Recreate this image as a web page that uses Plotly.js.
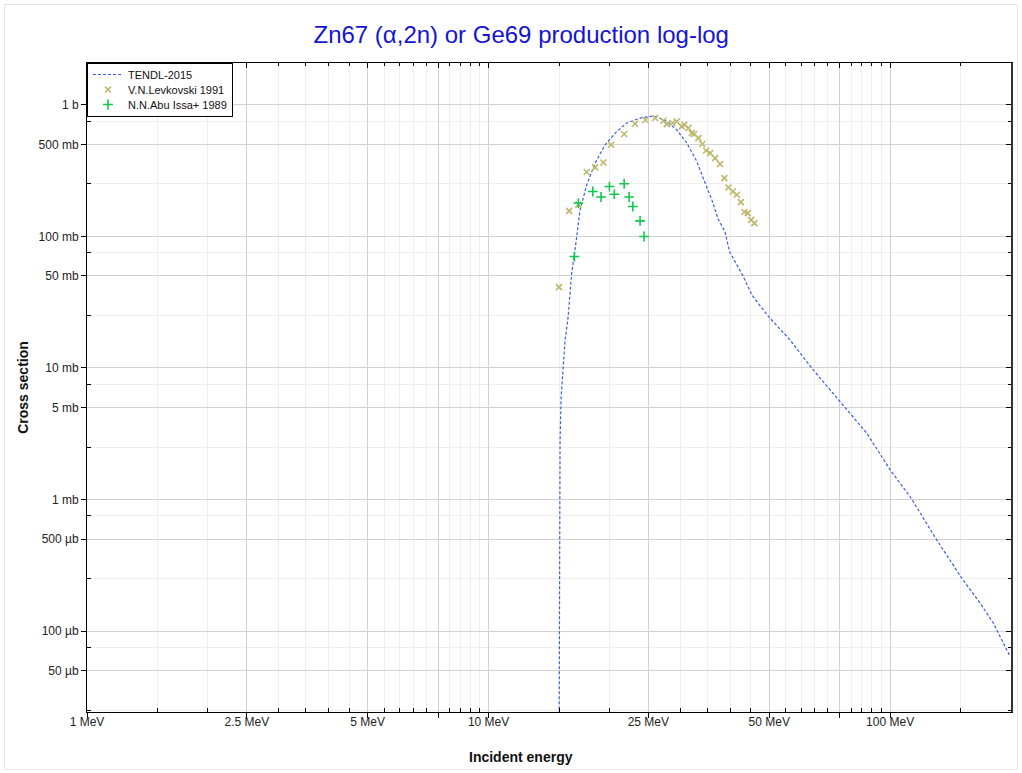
<!DOCTYPE html>
<html>
<head>
<meta charset="utf-8">
<script src="https://cdn.plot.ly/plotly-3.0.1.min.js"></script>
<style>
  html, body { margin: 0; padding: 0; background: #fff; }
  #wrap { position: relative; width: 1022px; height: 773px; }
  #chart { width: 1022px; height: 773px; }
  #frame { position: absolute; left: 4px; top: 4px; width: 1012px; height: 764px;
           border: 1px solid #e6e6e6; pointer-events: none; }
</style>
</head>
<body>
<div id="wrap"><div id="chart"></div><div id="frame"></div></div>
<script>
// ---- TENDL-2015 evaluation (energy in MeV, cross section in barn) ----
const tendlEnergy = [14.94, 15.01, 15.07, 15.16, 15.31, 15.51, 15.78, 16.11, 16.42, 16.90,
  17.56, 18.42, 19.51, 20.86, 22.09, 23.84, 25.25, 26.24, 27.79, 29.42,
  31.16, 33.01, 34.61, 35.97, 37.36, 38.82, 39.80, 43.11, 45.24, 49.77,
  56.36, 63.83, 75.07, 87.50, 100.0, 112.2, 130.7, 150.9, 167.6, 180.8, 199.0];
const tendlXs = [1e-6, 2.76e-4, 2.83e-3, 6.0e-3, 0.0102, 0.0163, 0.0244, 0.0528, 0.0789, 0.159,
  0.246, 0.360, 0.496, 0.626, 0.726, 0.792, 0.815, 0.806, 0.746, 0.645,
  0.512, 0.371, 0.254, 0.190, 0.134, 0.108, 0.0766, 0.0495, 0.0359, 0.0246,
  0.0163, 0.00995, 0.00554, 0.00319, 0.00168, 0.00105, 4.92e-4, 2.52e-4, 1.63e-4, 1.15e-4, 6.4e-5];

// ---- V.N.Levkovski 1991 ----
const levEnergy = [14.98, 15.87, 16.74, 17.56, 18.42, 19.32, 20.19, 21.76, 23.17, 24.58,
  25.98, 27.25, 27.79, 28.70, 29.42, 30.28, 30.74, 31.45, 32.07, 32.50,
  33.31, 34.08, 34.81, 35.62, 36.65, 37.72, 38.66, 39.56, 40.57, 41.52,
  42.48, 43.37, 44.22, 45.07, 45.92];
const levXs = [0.0411, 0.156, 0.174, 0.308, 0.334, 0.364, 0.496, 0.599, 0.717, 0.765,
  0.792, 0.756, 0.713, 0.726, 0.746, 0.684, 0.705, 0.665, 0.609, 0.599,
  0.558, 0.503, 0.449, 0.429, 0.393, 0.354, 0.277, 0.235, 0.219, 0.207,
  0.182, 0.153, 0.150, 0.1335, 0.126];

// ---- N.N.Abu Issa+ 1989 ----
const abuEnergy = [16.36, 16.74, 18.18, 19.06, 20.00, 20.57, 21.76, 22.39, 22.87, 23.84, 24.39];
const abuXs = [0.0702, 0.179, 0.219, 0.199, 0.239, 0.209, 0.251, 0.199, 0.1685, 0.131, 0.0997];

// ---- axis ticks ----
const xMajorVals = [1, 2.5, 5, 7.5, 10, 25, 50, 75, 100];
const xMajorText = ['1 MeV', '2.5 MeV', '5 MeV', '', '10 MeV', '25 MeV', '50 MeV', '', '100 MeV'];
const xMinorVals = [1.5, 2, 3, 3.5, 4, 4.5, 5.5, 6, 6.5, 7, 8, 8.5, 9, 9.5,
  15, 20, 30, 35, 40, 45, 55, 60, 65, 70, 80, 85, 90, 95, 150];
const yMajorVals = [1, 0.5, 0.1, 0.05, 0.01, 0.005, 0.001, 5e-4, 1e-4, 5e-5];
const yMajorText = ['1 b', '500 mb', '100 mb', '50 mb', '10 mb', '5 mb', '1 mb', '500 µb', '100 µb', '50 µb'];
const yMinorVals = [0.75, 0.25, 0.075, 0.025, 0.0075, 0.0025, 7.5e-4, 2.5e-4, 7.5e-5, 2.5e-5];

const xRange = [0, Math.log10(200)];
const yRange = [Math.log10(2.43e-5), Math.log10(2.075)];
const FONT = 'Liberation Sans, Arial, sans-serif';

const traces = [
  { x: tendlEnergy, y: tendlXs, type: 'scatter', mode: 'lines', name: 'TENDL-2015',
    line: { color: '#3a5fe0', width: 1.2, dash: '3px,2px' } },
  { x: levEnergy, y: levXs, type: 'scatter', mode: 'markers', name: 'V.N.Levkovski 1991',
    marker: { symbol: 'x-thin-open', size: 6, color: '#bdb76b', line: { color: '#bdb76b', width: 1.6 } } },
  { x: abuEnergy, y: abuXs, type: 'scatter', mode: 'markers', name: 'N.N.Abu Issa+ 1989',
    marker: { symbol: 'cross-thin-open', size: 7, color: '#10c850', line: { color: '#10c850', width: 1.6 } } },
  { x: [], y: [], xaxis: 'x2', yaxis: 'y2', type: 'scatter', mode: 'markers', showlegend: false, hoverinfo: 'skip' }
];

const layout = {
  width: 1022, height: 773,
  margin: { l: 87, r: 11, t: 63, b: 61 },
  paper_bgcolor: '#ffffff', plot_bgcolor: '#ffffff',
  font: { family: FONT, size: 12, color: '#222' },
  title: { text: 'Zn67 (α,2n) or Ge69 production log-log', font: { family: FONT, size: 24, color: '#1414d2' },
           x: 0.51, xanchor: 'center', y: 1 - 35 / 773, yref: 'container', yanchor: 'middle' },
  showlegend: true,
  legend: { x: 0, y: 1, xanchor: 'left', yanchor: 'top', bgcolor: '#ffffff', bordercolor: '#000000', borderwidth: 1,
            font: { family: FONT, size: 11, color: '#111' }, tracegroupgap: 0 },
  annotations: [
    { text: 'Incident energy', showarrow: false, xref: 'paper', yref: 'paper',
      x: (521 - 87) / 924, y: (712 - 757) / 649, xanchor: 'center', yanchor: 'middle',
      font: { family: FONT, size: 14, color: '#111', weight: 'bold' } }
  ],
  xaxis: {
    type: 'log', range: xRange, tickmode: 'array', tickvals: xMajorVals, ticktext: xMajorText,
    ticks: 'outside', ticklen: 5, tickcolor: '#000', showline: true, linecolor: '#000', linewidth: 1,
    showgrid: true, gridcolor: '#d2d2d2', gridwidth: 1, zeroline: false, ticklabelstandoff: -6,
    minor: { tickmode: 'array', tickvals: xMinorVals, ticks: 'inside', ticklen: 4, tickcolor: '#000', showgrid: true, gridcolor: '#efefef' },
    tickfont: { family: FONT, size: 12, color: '#222' }
  },
  yaxis: {
    type: 'log', range: yRange, tickmode: 'array', tickvals: yMajorVals, ticktext: yMajorText,
    ticks: 'outside', ticklen: 5, tickcolor: '#000', showline: true, linecolor: '#000', linewidth: 1,
    showgrid: true, gridcolor: '#d2d2d2', gridwidth: 1, zeroline: false,
    minor: { tickmode: 'array', tickvals: yMinorVals, ticks: 'inside', ticklen: 4, tickcolor: '#000', showgrid: true, gridcolor: '#efefef' },
    tickfont: { family: FONT, size: 12, color: '#222' },
    title: { text: 'Cross section', font: { family: FONT, size: 14, color: '#111', weight: 'bold' }, standoff: 6 }
  },
  xaxis2: {
    type: 'log', range: xRange, overlaying: 'x', side: 'top', anchor: 'y',
    tickmode: 'array', tickvals: xMajorVals, showticklabels: false, ticks: 'inside', ticklen: 5, tickcolor: '#000',
    showline: true, linecolor: '#000', linewidth: 1, showgrid: false, zeroline: false,
    minor: { tickmode: 'array', tickvals: xMinorVals, ticks: 'inside', ticklen: 3, tickcolor: '#000', showgrid: false }
  },
  yaxis2: {
    type: 'log', range: yRange, overlaying: 'y', side: 'right', anchor: 'x',
    tickmode: 'array', tickvals: yMajorVals, showticklabels: false, ticks: 'inside', ticklen: 5, tickcolor: '#000',
    showline: true, linecolor: '#333', linewidth: 2, showgrid: false, zeroline: false,
    minor: { tickmode: 'array', tickvals: yMinorVals, ticks: 'inside', ticklen: 3, tickcolor: '#000', showgrid: false }
  }
};

const gd = document.getElementById('chart');
Plotly.newPlot(gd, traces, layout, { displayModeBar: false, staticPlot: true }).then(function () {
  // tighten legend row spacing to match the reference
  try {
    const items = gd.querySelectorAll('.legend .traces');
    const step = 15;
    let y0 = null;
    items.forEach(function (g, i) {
      const m = /translate\(\s*([-\d.]+)[ ,]+([-\d.]+)\s*\)/.exec(g.getAttribute('transform') || '');
      if (!m) return;
      if (y0 === null) y0 = parseFloat(m[2]) - 4;
      g.setAttribute('transform', 'translate(' + m[1] + ',' + (y0 + step * i) + ')');
    });
    const bg = gd.querySelector('.legend rect.bg');
    if (bg && items.length) bg.setAttribute('height', 53);
  } catch (e) { /* keep default legend */ }
});
</script>
</body>
</html>
